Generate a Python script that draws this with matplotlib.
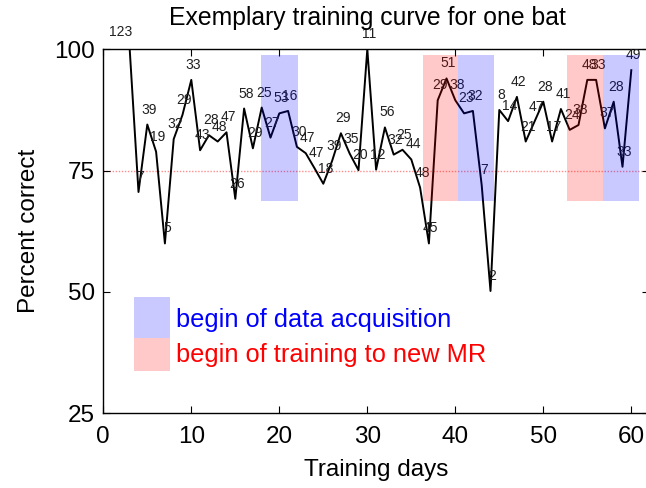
import matplotlib
matplotlib.use("Agg")
import matplotlib.pyplot as plt
from matplotlib.patches import Rectangle

plt.rcParams['font.family'] = ['Liberation Sans', 'DejaVu Sans']

# Daily performance of one bat
days = list(range(3, 61))
percent = [100.0, 70.6, 84.5, 78.9, 60.0, 81.5, 86.5, 93.7, 79.2, 82.3,
           81.0, 82.9, 69.2, 87.8, 79.6, 88.0, 81.8, 86.8, 87.3, 79.9,
           78.6, 75.5, 72.3, 77.0, 82.7, 78.5, 75.1, 100.0, 75.2, 83.9,
           78.3, 79.3, 77.3, 71.5, 60.0, 89.5, 94.0, 89.5, 86.8, 87.3,
           72.0, 50.2, 87.5, 85.2, 90.2, 81.0, 85.1, 89.2, 81.0, 87.7,
           83.4, 84.4, 93.7, 93.7, 83.7, 89.2, 75.8, 95.7]
# number written next to each day's point
session_counts = [123, 7, 39, 19, 5, 32, 29, 33, 43, 28,
                  48, 47, 26, 58, 29, 25, 27, 53, 16, 30,
                  47, 47, 18, 39, 29, 35, 20, 11, 12, 56,
                  32, 25, 44, 48, 45, 29, 51, 38, 23, 32,
                  7, 2, 8, 14, 42, 21, 47, 28, 17, 41,
                  24, 38, 48, 33, 37, 28, 33, 49]

criterion = 75
# shaded periods: (start day, end day)
acquisition_periods = [(17.9, 22.1), (40.3, 44.4), (56.8, 60.9)]
new_mr_periods = [(36.3, 40.3), (52.7, 56.8)]
band_low, band_high = 68.7, 98.8

x_ticks = [0, 10, 20, 30, 40, 50, 60]
y_ticks = [25, 50, 75, 100]

blue_fill = (0.0, 0.0, 1.0, 0.21)
red_fill = (1.0, 0.0, 0.0, 0.21)

fig = plt.figure(figsize=(6.46, 4.88), dpi=100)
ax = fig.add_axes([103.3 / 646, 74.7 / 488, 545.6 / 646, 364.0 / 488])

ax.plot(days, percent, color='black', lw=1.4, zorder=2)
ax.axhline(criterion, color='#ff8c8c', lw=1.0, ls=(0, (1, 1.2)), zorder=1)

for d, v, n in zip(days, percent, session_counts):
    off = (-6.5, 12.7) if v >= 100 and d < 10 else (1.4, 10.8)
    ax.annotate(str(n), (d, v), xytext=off, textcoords='offset points',
                ha='center', va='center', fontsize=10, color='#202020',
                zorder=3, annotation_clip=False)

for a, b in acquisition_periods:
    ax.add_patch(Rectangle((a, band_low), b - a, band_high - band_low,
                           facecolor=blue_fill, edgecolor='none', zorder=4))
for a, b in new_mr_periods:
    ax.add_patch(Rectangle((a, band_low), b - a, band_high - band_low,
                           facecolor=red_fill, edgecolor='none', zorder=4))

# key boxes inside the axes
ax.add_patch(Rectangle((3.5, 40.5), 4.1, 8.5, facecolor=blue_fill,
                       edgecolor='none', zorder=4))
ax.add_patch(Rectangle((3.5, 33.7), 4.1, 6.8, facecolor=red_fill,
                       edgecolor='none', zorder=4))
ax.text(8.3, 44.3, 'begin of data acquisition', color='blue',
        fontsize=18.3, va='center', ha='left')
ax.text(8.3, 37.0, 'begin of training to new MR', color='red',
        fontsize=18.3, va='center', ha='left')

ax.set_xlim(0, 62)
ax.set_ylim(25, 100)
ax.set_xticks(x_ticks)
ax.set_yticks(y_ticks)
ax.tick_params(direction='in', top=True, right=True, length=5, width=0.8,
               labelsize=17.5)
ax.tick_params(axis='x', pad=9)
ax.tick_params(axis='y', pad=6)
for s in ax.spines.values():
    s.set_linewidth(1.0)

ax.set_xlabel('Training days', fontsize=17.5, labelpad=8)
ax.set_ylabel('Percent correct', fontsize=17.5, labelpad=10)
fig.text(367 / 646, 1 - 18 / 488, 'Exemplary training curve for one bat',
         fontsize=17.8, ha='center', va='center')

fig.savefig('out.png', dpi=100)
